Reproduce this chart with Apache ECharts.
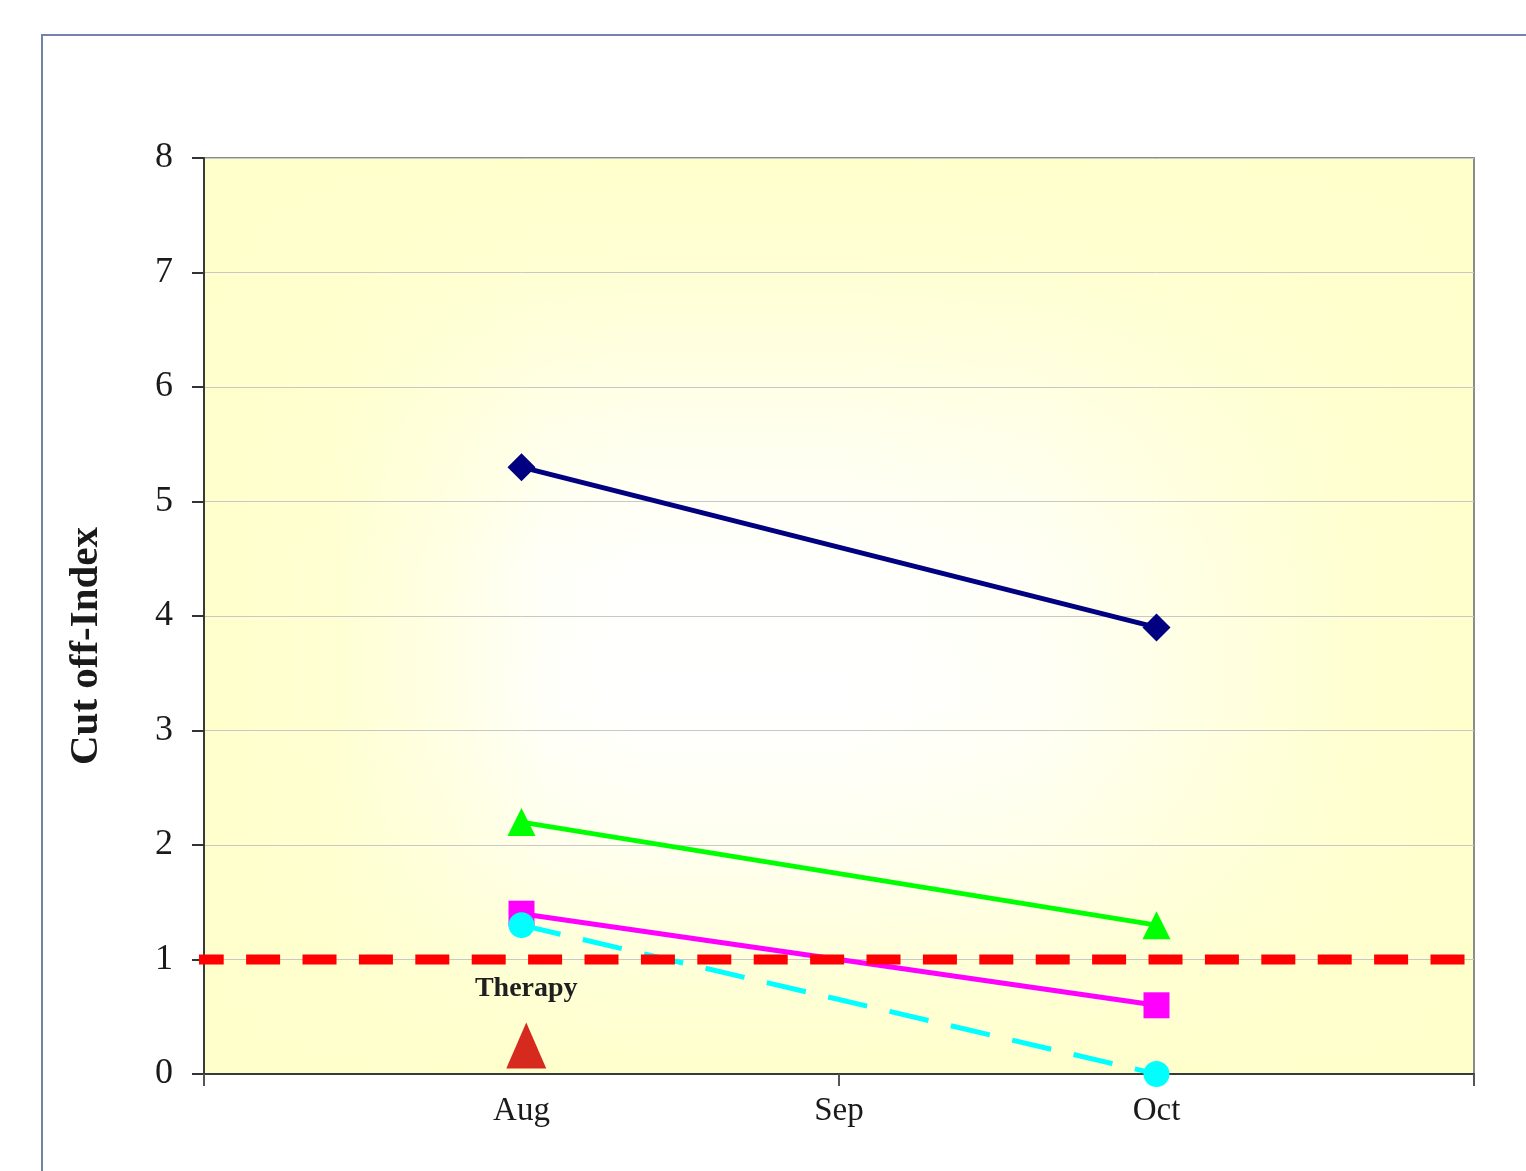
<!DOCTYPE html>
<html>
<head>
<meta charset="utf-8">
<script src="https://cdn.jsdelivr.net/npm/echarts@6/dist/echarts.min.js"></script>
<style>
  html, body { margin: 0; padding: 0; background: #ffffff; }
  #chart { width: 1526px; height: 1171px; }
</style>
</head>
<body>
<div id="chart"></div>
<script>
// Month positions on the x scale and their labels
const monthPos = [1, 2, 3];
const monthLabels = ['Aug', 'Sep', 'Oct'];
const boundaryTicks = [0, 2, 4];
const xRange = [0, 4];

// Cut off-Index per patient line (Aug, Oct)
const xPoints = [1, 3];
const seriesNavy = [5.3, 3.9];
const seriesGreen = [2.2, 1.3];
const seriesMagenta = [1.4, 0.6];
const seriesCyan = [1.3, 0.0];

// Cut-off threshold and the therapy marker
const cutoffValue = 1;
const cutoffSpan = [-0.045, 3.975];
const therapyPoint = [1.015, 0.25];
const therapyText = 'Therapy';

const yRange = [0, 8];
const yTicks = [0, 1, 2, 3, 4, 5, 6, 7, 8];

const FONT = '"Liberation Serif", "Times New Roman", serif';

function pairs(xs, ys) { return xs.map((x, i) => [x, ys[i]]); }

// pale yellow wash, strongest at the plot edges and fading toward the middle
function wash(horizontal, stops) {
  return {
    type: 'linear', x: 0, y: 0, x2: horizontal ? 1 : 0, y2: horizontal ? 0 : 1,
    colorStops: stops.map(s => ({ offset: s[0], color: 'rgba(255,255,204,' + s[1] + ')' }))
  };
}

const chart = echarts.init(document.getElementById('chart'), null, { renderer: 'canvas' });

function lineSeries(name, values, color, symbol, size, dashed, z) {
  return {
    name: name,
    type: 'line',
    data: pairs(xPoints, values),
    symbol: symbol,
    symbolSize: size,
    clip: false,
    z: z,
    lineStyle: { color: color, width: 5, type: dashed ? [40, 23] : 'solid' },
    itemStyle: { color: color, opacity: 1 },
    emphasis: { disabled: true }
  };
}

function washSeries(name, gradient) {
  return {
    name: name,
    type: 'line',
    data: [[xRange[0], yRange[0]]],
    symbol: 'none',
    lineStyle: { opacity: 0 },
    silent: true,
    z: 0,
    markArea: {
      z: 0,
      silent: true,
      data: [[{ coord: [xRange[0], yRange[0]] }, { coord: [xRange[1], yRange[1]] }]],
      itemStyle: { color: gradient }
    }
  };
}

chart.setOption({
  animation: false,
  backgroundColor: '#ffffff',
  graphic: [{
    type: 'rect',
    shape: { x: 42, y: 35, width: 2000, height: 2000 },
    style: { fill: 'none', stroke: '#7282aa', lineWidth: 2 },
    z: 0
  }],
  grid: {
    left: 204, top: 158, right: 52, bottom: 97,
    show: true,
    z: 2,
    borderColor: '#8c8c8c',
    borderWidth: 2,
    backgroundColor: 'transparent'
  },
  xAxis: {
    type: 'value',
    z: 2,
    min: xRange[0], max: xRange[1], interval: 1,
    splitLine: { show: false },
    axisLine: { show: true, lineStyle: { color: '#3a3a3a', width: 2 } },
    axisTick: { show: true, length: 12, customValues: boundaryTicks, lineStyle: { color: '#555', width: 2 } },
    axisLabel: {
      customValues: monthPos,
      formatter: v => monthLabels[monthPos.indexOf(v)] || '',
      fontFamily: FONT, fontSize: 33, color: '#1a1a1a', margin: 21
    }
  },
  yAxis: {
    type: 'value',
    z: 2,
    min: yRange[0], max: yRange[1], interval: 1,
    name: 'Cut off-Index',
    nameLocation: 'middle',
    nameGap: 97,
    nameTextStyle: { fontFamily: FONT, fontSize: 41, fontWeight: 'bold', color: '#1a1a1a', padding: [0, 60, 0, 0] },
    splitLine: { show: true, lineStyle: { color: '#c8c8c8', width: 1 } },
    axisLine: { show: true, lineStyle: { color: '#3a3a3a', width: 2 } },
    axisTick: { show: true, length: 12, lineStyle: { color: '#333', width: 2 } },
    axisLabel: {
      formatter: v => (yTicks.indexOf(v) >= 0 ? String(v) : ''),
      fontFamily: FONT, fontSize: 36, color: '#1a1a1a', margin: 31,
      padding: [8, 0, 0, 0]
    }
  },
  series: [
    washSeries('wash-h', wash(true, [[0, 1], [0.1, 0.88], [0.19, 0.5], [0.27, 0.1], [0.35, 0], [0.5, 0], [0.65, 0.15], [0.8, 0.6], [0.9, 0.88], [1, 1]])),
    washSeries('wash-v', wash(false, [[0, 1], [0.12, 0.85], [0.3, 0.35], [0.45, 0.03], [0.6, 0], [0.75, 0.3], [0.9, 0.8], [1, 1]])),
    lineSeries('Navy', seriesNavy, '#000080', 'diamond', 28, false, 4),
    lineSeries('Green', seriesGreen, '#00ff00', 'triangle', 28, false, 4),
    lineSeries('Magenta', seriesMagenta, '#ff00ff', 'rect', 26, false, 4),
    lineSeries('Cyan', seriesCyan, '#00ffff', 'circle', 26, true, 5),
    {
      name: 'Cut off',
      type: 'line',
      data: [[cutoffSpan[0], cutoffValue], [cutoffSpan[1], cutoffValue]],
      symbol: 'none',
      clip: false,
      silent: true,
      z: 7,
      lineStyle: { color: '#ff0000', width: 10, type: [34, 22.4], cap: 'butt' },
      emphasis: { disabled: true }
    },
    {
      name: therapyText,
      type: 'scatter',
      data: [therapyPoint],
      symbol: 'triangle',
      symbolSize: [40, 46],
      clip: false,
      z: 6,
      itemStyle: { color: '#d62a1f', opacity: 1 },
      emphasis: { disabled: true },
      label: {
        show: true,
        position: 'top',
        distance: 20,
        opacity: 1,
        formatter: therapyText,
        fontFamily: FONT, fontSize: 28, fontWeight: 'bold', color: '#1f1f1f'
      }
    }
  ]
});
</script>
</body>
</html>
